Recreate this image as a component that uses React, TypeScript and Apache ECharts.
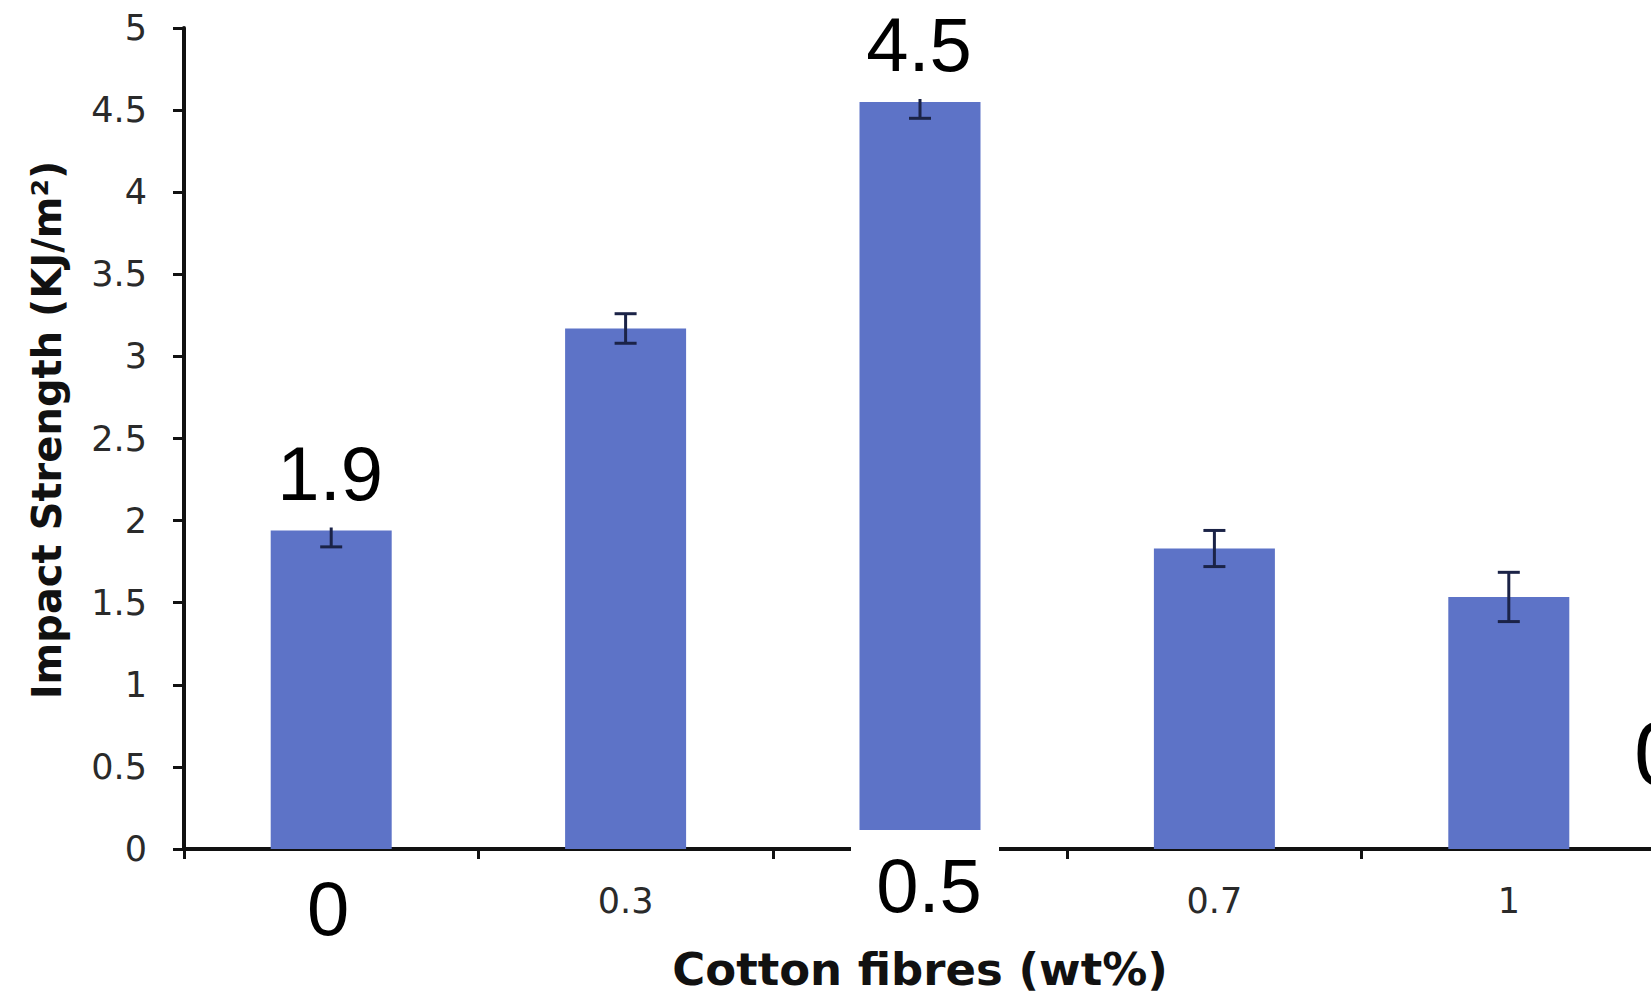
import React, { useEffect, useRef } from "react";
import * as echarts from "echarts";

const categories = ["0", "0.3", "0.5", "0.7", "1"];
const impactStrength = [1.94, 3.17, 4.55, 1.83, 1.535];
const errorValues = [0.1, 0.09, 0.1, 0.11, 0.15];
const topAnnotations = ["1.9", "", "4.5", "", ""];
const bottomAnnotations = ["0", "", "0.5", "", ""];
const yTicks = { min: 0, max: 5, interval: 0.5 };

const TICK_FONT = "'DejaVu Sans', Verdana, sans-serif";
const OVERLAY_FONT = "'Liberation Sans', Arial, sans-serif";

// layout of the overlaid bottom labels relative to the bar foot (style only)
const bottomLayout: Record<number, { dx: number; dy: number; l: number; r: number; t: number }> = {
  0: { dx: -3, dy: 59, l: -48, r: 34, t: 4 },
  2: { dx: 9, dy: 36, l: -69, r: 79, t: -19 },
};

export default function App() {
  const ref = useRef<HTMLDivElement>(null);
  useEffect(() => {
    if (!ref.current) return;
    const chart = echarts.init(ref.current, undefined, { renderer: "svg" });
    const option: any = {
      animation: false,
      backgroundColor: "#ffffff",
      grid: { left: 184, right: 4, top: 28, bottom: 155, containLabel: false },
      xAxis: {
        type: "category",
        data: categories,
        name: "Cotton fibres (wt%)",
        nameLocation: "middle",
        nameGap: 98,
        nameTextStyle: { fontFamily: TICK_FONT, fontWeight: "bold", fontSize: 45, color: "#111" },
        axisLine: { lineStyle: { color: "#111", width: 4 } },
        axisTick: { show: true, length: 10, lineStyle: { color: "#111", width: 3 } },
        axisLabel: {
          margin: 34,
          fontFamily: TICK_FONT,
          fontSize: 35,
          color: "#2a2a2a",
          formatter: (v: string, i: number) => (bottomAnnotations[i] ? "" : v),
        },
        splitLine: { show: false },
      },
      yAxis: {
        type: "value",
        min: yTicks.min,
        max: yTicks.max,
        interval: yTicks.interval,
        name: "Impact Strength (KJ/m²)",
        nameLocation: "middle",
        nameGap: 117,
        nameTextStyle: {
          fontFamily: TICK_FONT,
          fontWeight: "bold",
          fontSize: 40,
          color: "#111",
          padding: [0, 0, 0, 17],
        },
        axisLine: { show: true, lineStyle: { color: "#111", width: 4 } },
        axisTick: { show: true, length: 11, lineStyle: { color: "#111", width: 3 } },
        axisLabel: { margin: 37, fontFamily: TICK_FONT, fontSize: 35, color: "#2a2a2a" },
        splitLine: { show: false },
      },
      series: [
        {
          type: "bar",
          data: impactStrength,
          barWidth: 121,
          itemStyle: { color: "#5d73c7" },
          z: 2,
        },
        {
          type: "custom",
          z: 3,
          data: impactStrength.map((v, i) => [i, v, errorValues[i]]),
          renderItem: (params: any, api: any) => {
            const i = api.value(0);
            const v = api.value(1);
            const e = api.value(2);
            const hi = api.coord([i, v + e]);
            const lo = api.coord([i, v - e]);
            const x = hi[0];
            const st = { stroke: "#1b2347", lineWidth: 3 };
            return {
              type: "group",
              children: [
                { type: "line", shape: { x1: x, y1: hi[1], x2: x, y2: lo[1] }, style: st },
                { type: "line", shape: { x1: x - 11, y1: hi[1], x2: x + 11, y2: hi[1] }, style: st },
                { type: "line", shape: { x1: x - 11, y1: lo[1], x2: x + 11, y2: lo[1] }, style: st },
              ],
            };
          },
        },
        {
          type: "custom",
          z: 10,
          data: impactStrength.map((v, i) => [i, v]),
          renderItem: (params: any, api: any) => {
            const idx = params.dataIndex;
            const i = api.value(0);
            const v = api.value(1);
            const children: any[] = [];
            const top = topAnnotations[idx];
            if (top) {
              const p = api.coord([i, v]);
              const cy = p[1] - 57;
              children.push({
                type: "rect",
                shape: { x: p[0] - 64, y: cy - 52, width: 128, height: p[1] - 3 - (cy - 52) },
                style: { fill: "#ffffff" },
              });
              children.push({
                type: "text",
                style: {
                  text: top,
                  x: p[0] - 1,
                  y: cy,
                  align: "center",
                  verticalAlign: "middle",
                  fontSize: 76,
                  fontFamily: OVERLAY_FONT,
                  fill: "#000",
                },
              });
            }
            const bot = bottomAnnotations[idx];
            if (bot) {
              const q = api.coord([i, 0]);
              const lay = bottomLayout[idx] || { dx: 0, dy: 50, l: -50, r: 50, t: 4 };
              children.push({
                type: "rect",
                shape: { x: q[0] + lay.l, y: q[1] + lay.t, width: lay.r - lay.l, height: lay.dy + 48 - lay.t },
                style: { fill: "#ffffff" },
              });
              children.push({
                type: "text",
                style: {
                  text: bot,
                  x: q[0] + lay.dx,
                  y: q[1] + lay.dy,
                  align: "center",
                  verticalAlign: "middle",
                  fontSize: 76,
                  fontFamily: OVERLAY_FONT,
                  fill: "#000",
                },
              });
            }
            return { type: "group", children };
          },
        },
      ],
      graphic: [
        {
          type: "text",
          x: 1634,
          y: 754,
          z: 20,
          style: {
            text: "0",
            align: "left",
            verticalAlign: "middle",
            fontSize: 90,
            fontFamily: OVERLAY_FONT,
            fill: "#000",
          },
        },
      ],
    };
    chart.setOption(option);
    return () => chart.dispose();
  }, []);
  return (
    <div
      style={{
        position: "fixed",
        left: 0,
        top: 0,
        width: 1651,
        height: 1004,
        overflow: "hidden",
        background: "#fff",
      }}
    >
      <div ref={ref} style={{ width: 1660, height: 1004 }} />
    </div>
  );
}
